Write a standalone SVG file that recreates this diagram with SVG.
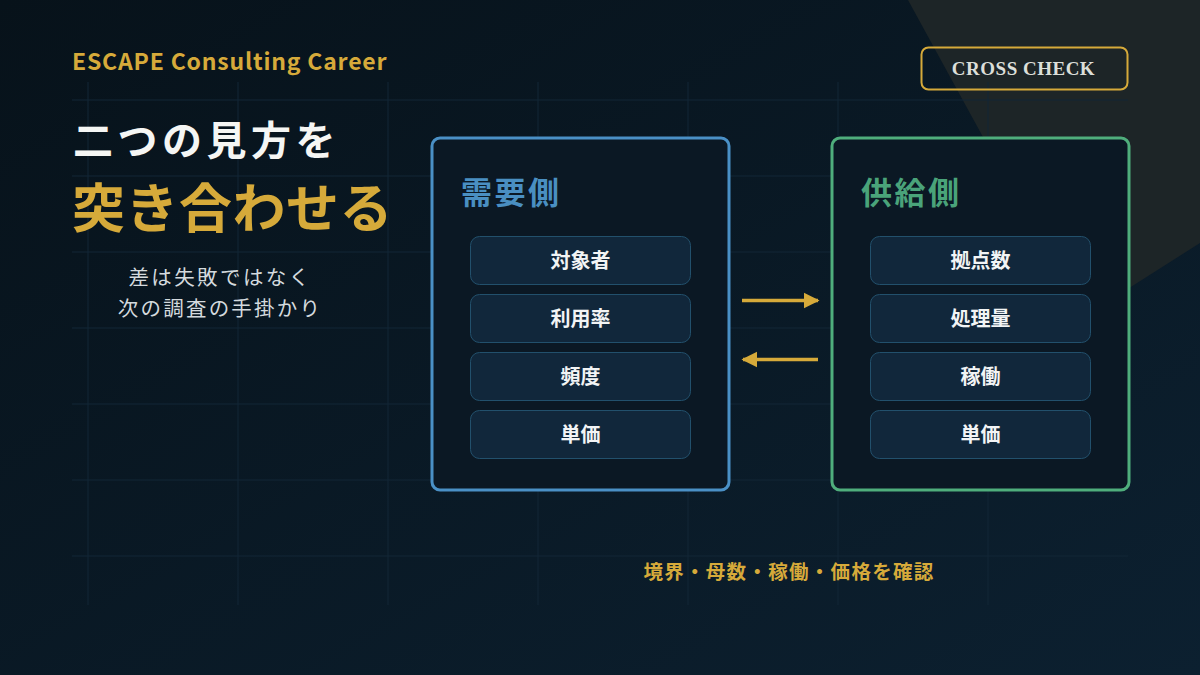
<svg xmlns="http://www.w3.org/2000/svg" width="1200" height="675" viewBox="0 0 1200 675">
  <defs>
    <linearGradient id="bg" x1="0" y1="0" x2="1" y2="1">
      <stop offset="0" stop-color="#07121a"/>
      <stop offset="1" stop-color="#0c2030"/>
    </linearGradient>
    <marker id="ah" viewBox="0 0 10 10" refX="9" refY="5" markerWidth="4.5" markerHeight="5.5" orient="auto" markerUnits="strokeWidth">
      <path d="M0,0 L10,5 L0,10 Z" fill="#d6aa3a"/>
    </marker>
    <style>
      .grid line { stroke: #122636; stroke-width: 1; }
      .jp { font-family: "Noto Sans CJK JP", "Noto Sans", sans-serif; }
      .panel { fill: #0b1824; stroke-width: 3; }
      .item rect { fill: #11273b; stroke: #22506c; stroke-width: 1; }
      .item text { fill: #f2f4f5; font-size: 20px; font-weight: 700; text-anchor: middle; font-family: "Noto Sans CJK JP", "Noto Sans", sans-serif; }
      .conn { stroke: #d6aa3a; stroke-width: 3.5; fill: none; }
      .ptitle { font-size: 31px; font-weight: 700; letter-spacing: 2.5px; font-family: "Noto Sans CJK JP", "Noto Sans", sans-serif; }
    </style>
  </defs>

  <rect width="1200" height="675" fill="url(#bg)"/>
  <polygon points="908,0 1200,0 1200,243 1082,318" fill="#1d2527"/>

  <g class="grid">
    <line x1="88" y1="82" x2="88" y2="605"/>
    <line x1="238" y1="82" x2="238" y2="605"/>
    <line x1="388" y1="82" x2="388" y2="605"/>
    <line x1="538" y1="82" x2="538" y2="605"/>
    <line x1="688" y1="82" x2="688" y2="605"/>
    <line x1="838" y1="82" x2="838" y2="605"/>
    <line x1="988" y1="82" x2="988" y2="605"/>
    <line x1="72" y1="100" x2="1128" y2="100"/>
    <line x1="72" y1="176" x2="1128" y2="176"/>
    <line x1="72" y1="252" x2="1128" y2="252"/>
    <line x1="72" y1="328" x2="1128" y2="328"/>
    <line x1="72" y1="404" x2="1128" y2="404"/>
    <line x1="72" y1="480" x2="1128" y2="480"/>
    <line x1="72" y1="556" x2="1128" y2="556"/>
  </g>

  <g id="header">
    <text x="72" y="70" class="jp" font-size="23" font-weight="700" fill="#d6aa3a" letter-spacing="0.8">ESCAPE Consulting Career</text>
    <text x="73" y="155" class="jp" font-size="40" font-weight="700" fill="#f5f6f4" letter-spacing="4.5">二つの見方を</text>
    <text x="72" y="228" class="jp" font-size="53" font-weight="700" fill="#d6aa3a" letter-spacing="0.5">突き合わせる</text>
    <text x="220" y="285" class="jp" font-size="20.5" font-weight="400" fill="#d4dade" text-anchor="middle" letter-spacing="2.4">差は失敗ではなく</text>
    <text x="220" y="316" class="jp" font-size="20.5" font-weight="400" fill="#d4dade" text-anchor="middle" letter-spacing="2.2">次の調査の手掛かり</text>
  </g>

  <g id="badge">
    <rect x="921.5" y="47.5" width="206" height="42" rx="7" fill="none" stroke="#d6aa3a" stroke-width="2"/>
    <text x="1023.5" y="75" font-family="Liberation Serif, serif" font-size="19" font-weight="700" fill="#dcdfd9" text-anchor="middle" letter-spacing="0.5">CROSS CHECK</text>
  </g>

  <g id="demand">
    <rect class="panel" x="432" y="138" width="297" height="352" rx="8" stroke="#4a90c6"/>
    <text x="461" y="204" class="ptitle" fill="#4a8fc2">需要側</text>
    <g class="item"><rect x="470.5" y="236.5" width="220" height="48" rx="9"/><text x="580.5" y="267.5">対象者</text></g>
    <g class="item"><rect x="470.5" y="294.5" width="220" height="48" rx="9"/><text x="580.5" y="325.5">利用率</text></g>
    <g class="item"><rect x="470.5" y="352.5" width="220" height="48" rx="9"/><text x="580.5" y="383.5">頻度</text></g>
    <g class="item"><rect x="470.5" y="410.5" width="220" height="48" rx="9"/><text x="580.5" y="441.5">単価</text></g>
  </g>

  <g id="supply">
    <rect class="panel" x="832" y="138" width="297" height="352" rx="8" stroke="#4fae7c"/>
    <text x="861" y="204" class="ptitle" fill="#4aa37a">供給側</text>
    <g class="item"><rect x="870.5" y="236.5" width="220" height="48" rx="9"/><text x="980.5" y="267.5">拠点数</text></g>
    <g class="item"><rect x="870.5" y="294.5" width="220" height="48" rx="9"/><text x="980.5" y="325.5">処理量</text></g>
    <g class="item"><rect x="870.5" y="352.5" width="220" height="48" rx="9"/><text x="980.5" y="383.5">稼働</text></g>
    <g class="item"><rect x="870.5" y="410.5" width="220" height="48" rx="9"/><text x="980.5" y="441.5">単価</text></g>
  </g>

  <g id="connectors">
    <line class="conn" x1="742" y1="300.5" x2="818" y2="300.5" marker-end="url(#ah)"/>
    <line class="conn" x1="818" y1="359.5" x2="743" y2="359.5" marker-end="url(#ah)"/>
  </g>

  <g id="footer">
    <text x="789" y="579" class="jp" font-size="19.5" font-weight="700" fill="#d6aa3a" text-anchor="middle" letter-spacing="1.3">境界・母数・稼働・価格を確認</text>
  </g>
</svg>
